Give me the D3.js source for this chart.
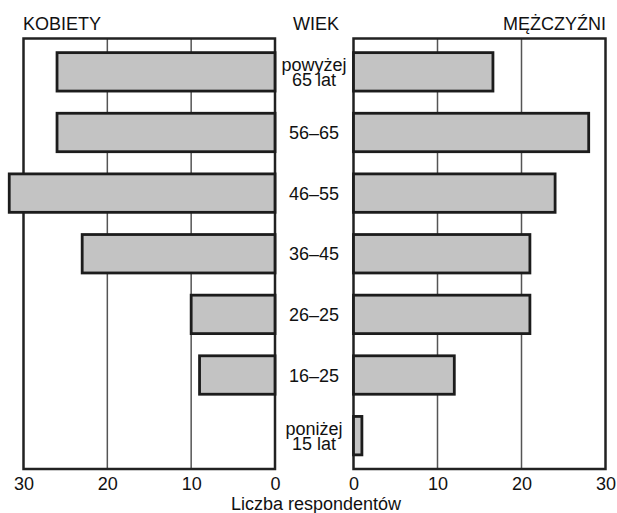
<!DOCTYPE html>
<html>
<head>
<meta charset="utf-8">
<script src="https://cdn.jsdelivr.net/npm/d3@7"></script>
<style>
  html, body { margin: 0; padding: 0; background: #fff; }
  svg { display: block; font-family: "Liberation Sans", Arial, sans-serif; }
</style>
</head>
<body>
<svg id="chart" width="617" height="513"></svg>
<script>
// ---- data ----
const categories = ["powyżej\n65 lat", "56–65", "46–55", "36–45", "26–25", "16–25", "poniżej\n15 lat"];
const women = [26, 26, 31.7, 23, 10, 9, 0];
const men = [16.6, 28, 24, 21, 21, 12, 1];
const tickValues = [0, 10, 20, 30];
const leftTitle = "KOBIETY";
const middleTitle = "WIEK";
const rightTitle = "MĘŻCZYŹNI";
const xTitle = "Liczba respondentów";

// ---- layout ----
const svg = d3.select("#chart");
const plotTop = 38.5, plotBottom = 469;
const leftPanel = { x0: 275, x1: 23.5 };
const rightPanel = { x0: 353.5, x1: 605.5 };
const centerX = 314;

const y = d3.scaleBand()
  .domain(categories)
  .range([plotTop, plotBottom])
  .paddingInner(0.366)
  .paddingOuter(0.233);

const xL = d3.scaleLinear().domain([0, 30]).range([leftPanel.x0, leftPanel.x1]);
const xR = d3.scaleLinear().domain([0, 30]).range([rightPanel.x0, rightPanel.x1]);

const gridColor = "#555";
const frameColor = "#222";
const barFill = "#c3c3c3";
const barStroke = "#1c1c1c";
const textColor = "#111";

function panel(x, values, cls) {
  const g = svg.append("g").attr("class", cls);
  g.selectAll("line.grid")
    .data(tickValues.filter(t => t > 0 && t < 30))
    .join("line")
    .attr("class", "grid")
    .attr("x1", d => x(d)).attr("x2", d => x(d))
    .attr("y1", plotTop).attr("y2", plotBottom)
    .attr("stroke", gridColor).attr("stroke-width", 1.5);
  const xa = Math.min(x(0), x(30)), xb = Math.max(x(0), x(30));
  g.append("rect")
    .attr("x", xa).attr("y", plotTop)
    .attr("width", xb - xa).attr("height", plotBottom - plotTop)
    .attr("fill", "none").attr("stroke", frameColor).attr("stroke-width", 2.5);
  g.selectAll("rect.bar")
    .data(categories.map((c, i) => ({ c, v: values[i] })).filter(d => d.v > 0))
    .join("rect")
    .attr("class", "bar")
    .attr("x", d => Math.min(x(0), x(d.v)))
    .attr("y", d => y(d.c))
    .attr("width", d => Math.abs(x(d.v) - x(0)))
    .attr("height", y.bandwidth())
    .attr("fill", barFill)
    .attr("stroke", barStroke)
    .attr("stroke-width", 2.8);
  const axis = d3.axisBottom(x).tickValues(tickValues).tickSize(0).tickPadding(8).tickFormat(d3.format("d"));
  const ag = g.append("g").attr("transform", `translate(0,${plotBottom})`).call(axis);
  ag.select(".domain").remove();
  ag.selectAll("text")
    .attr("font-size", 18)
    .attr("font-family", "Liberation Sans, Arial, sans-serif")
    .attr("fill", textColor);
}

panel(xL, women, "women");
panel(xR, men, "men");

const lab = svg.append("g").attr("class", "cats");
categories.forEach(c => {
  const lines = c.split("\n");
  const cy = y(c) + y.bandwidth() / 2;
  const lh = 15;
  const t = lab.append("text")
    .attr("x", centerX)
    .attr("text-anchor", "middle")
    .attr("font-size", 18)
    .attr("fill", textColor);
  lines.forEach((l, i) => {
    t.append("tspan")
      .attr("x", centerX)
      .attr("y", cy + 6.5 + (i - (lines.length - 1) / 2) * lh)
      .text(l);
  });
});

svg.append("text").attr("x", 23).attr("y", 30).attr("font-size", 18).attr("fill", textColor).text(leftTitle);
svg.append("text").attr("x", 316).attr("y", 30).attr("text-anchor", "middle").attr("font-size", 18).attr("fill", textColor).text(middleTitle);
svg.append("text").attr("x", 606).attr("y", 30).attr("text-anchor", "end").attr("font-size", 18).attr("fill", textColor).text(rightTitle);
svg.append("text").attr("x", 316).attr("y", 510).attr("text-anchor", "middle").attr("font-size", 18).attr("fill", textColor).text(xTitle);
</script>
</body>
</html>
